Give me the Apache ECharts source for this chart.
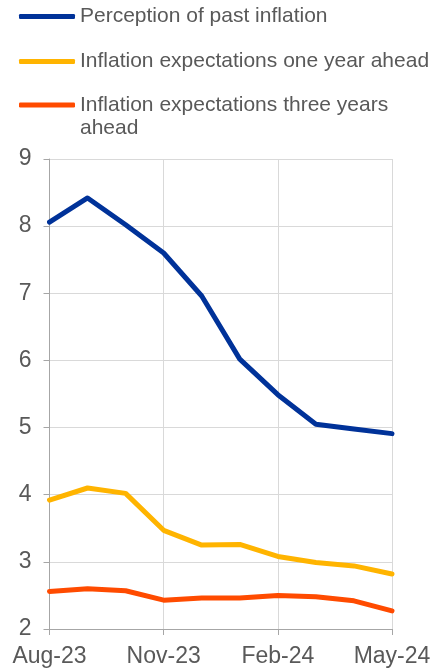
<!DOCTYPE html>
<html><head><meta charset="utf-8">
<script src="https://cdn.jsdelivr.net/npm/echarts@6/dist/echarts.min.js"></script>
<style>html,body{margin:0;padding:0;background:#fff}#c{width:437px;height:669px}</style>
</head><body><div id="c"></div>
<script>
const categories = ['Aug-23','Sep-23','Oct-23','Nov-23','Dec-23','Jan-24','Feb-24','Mar-24','Apr-24','May-24'];
const pastPerception = [8.06, 8.42, 8.02, 7.60, 6.96, 6.02, 5.49, 5.05, 4.98, 4.91];
const oneYearAhead = [3.92, 4.10, 4.02, 3.47, 3.25, 3.26, 3.08, 2.99, 2.94, 2.82];
const threeYearsAhead = [2.56, 2.60, 2.57, 2.43, 2.46, 2.46, 2.50, 2.48, 2.42, 2.27];
const seriesNames = ['Perception of past inflation','Inflation expectations one year ahead','Inflation expectations three years ahead'];
const colors = ['#003299','#ffb400','#ff4b00'];

const chart = echarts.init(document.getElementById('c'), null, {renderer:'canvas'});
const mk = (name, data, color) => ({
  name, type:'line', data, symbol:'none', smooth:false,
  lineStyle:{width:5, color, cap:'round', join:'round'}, itemStyle:{color}
});
const legendBase = {
  orient:'vertical', left:19, itemWidth:56, itemHeight:5, itemGap:22,
  icon:'roundRect', padding:0
};
const legendText = {fontSize:21, color:'#595959', width:356, overflow:'break', lineHeight:23};
chart.setOption({
  animation:false,
  textStyle:{fontFamily:'Arial, "Liberation Sans", sans-serif'},
  legend:[
    Object.assign({}, legendBase, {top:5, textStyle:legendText, data:seriesNames.slice(0,2)}),
    Object.assign({}, legendBase, {top:70.5, textStyle:legendText, data:seriesNames.slice(2),
      formatter: name => '\n' + name})
  ],
  grid:{left:49.5, right:45, top:159, bottom:40, containLabel:false},
  xAxis:{
    type:'category', data:categories, boundaryGap:false,
    axisLine:{lineStyle:{color:'#a6a6a6', width:1}},
    axisTick:{show:true, interval:2, length:6, lineStyle:{color:'#a6a6a6'}},
    axisLabel:{interval:2, fontSize:23, color:'#595959', margin:16},
    splitLine:{show:true, interval:2, lineStyle:{color:'#d9d9d9', width:1}}
  },
  yAxis:{
    type:'value', min:2, max:9, interval:1,
    axisLine:{show:true, lineStyle:{color:'#a6a6a6', width:1}},
    axisTick:{show:true, length:6, lineStyle:{color:'#a6a6a6'}},
    axisLabel:{fontSize:23, color:'#595959', margin:18},
    splitLine:{show:true, lineStyle:{color:'#d9d9d9', width:1}}
  },
  series:[
    mk(seriesNames[0], pastPerception, colors[0]),
    mk(seriesNames[1], oneYearAhead, colors[1]),
    mk(seriesNames[2], threeYearsAhead, colors[2])
  ]
});
</script></body></html>
